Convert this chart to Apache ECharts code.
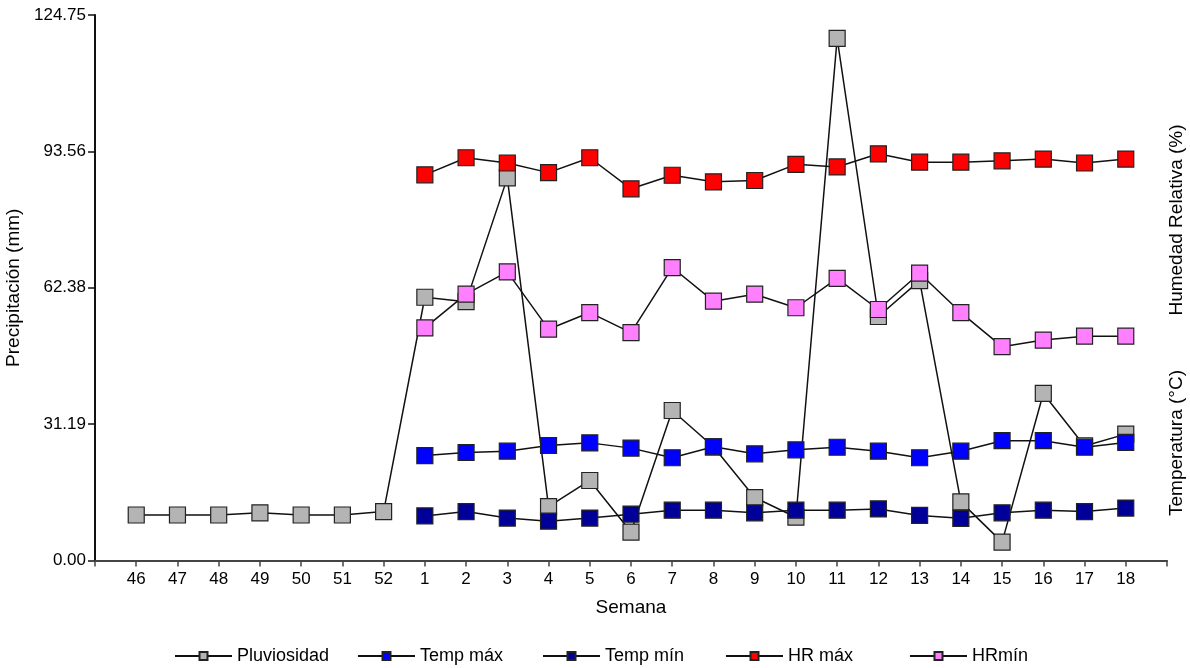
<!DOCTYPE html>
<html>
<head>
<meta charset="utf-8">
<script src="https://cdn.jsdelivr.net/npm/echarts@6/dist/echarts.min.js"></script>
<style>html,body{margin:0;padding:0;background:#fff}#c{width:1190px;height:668px}</style>
</head>
<body>
<div id="c"></div>
<script>
var weeks = ['46','47','48','49','50','51','52','1','2','3','4','5','6','7','8','9','10','11','12','13','14','15','16','17','18'];
var pluviosidad = [10.4,10.4,10.4,10.9,10.4,10.4,11.2,60.2,59.2,87.5,12.3,18.3,6.5,34.3,26.0,14.4,9.9,119.4,55.8,64.0,13.4,4.2,38.2,26.2,28.9];
var tempMax = [null,null,null,null,null,null,null,24.0,24.7,25.0,26.3,26.9,25.7,23.5,26.0,24.4,25.3,25.9,25.0,23.5,25.0,27.4,27.4,25.9,27.0];
var tempMin = [null,null,null,null,null,null,null,10.2,11.2,9.7,9.0,9.7,10.6,11.5,11.5,10.9,11.5,11.5,11.8,10.3,9.65,10.9,11.5,11.2,12.0];
var hrMax = [null,null,null,null,null,null,null,88.2,92.1,90.9,88.7,92.1,85.0,88.1,86.6,86.9,90.6,90.0,93.0,91.1,91.1,91.4,91.8,90.9,91.8];
var hrMin = [null,null,null,null,null,null,null,53.2,60.9,66.0,52.9,56.7,52.1,67.0,59.3,60.9,57.8,64.5,57.4,65.7,56.7,48.9,50.4,51.3,51.3];

var names = ['Pluviosidad','Temp máx','Temp mín','HR máx','HRmín'];
var colors = ['#b4b4b4','#0000ff','#000099','#ff0000','#ff80ff'];
var datas = [pluviosidad, tempMax, tempMin, hrMax, hrMin];

function pad(a){ return [null].concat(a, [null]); }
var cats = [''].concat(weeks, ['']);
var FONT = 'Liberation Sans, Arial, sans-serif';

var series = names.map(function(n, i){
  return {
    name: n, type: 'line', data: pad(datas[i]),
    symbol: 'rect', symbolSize: 16, showSymbol: true,
    connectNulls: false,
    lineStyle: {color: '#111', width: 1.5},
    itemStyle: {color: colors[i], borderColor: '#222', borderWidth: 1.2},
    emphasis: {disabled: true},
    animation: false
  };
});

var legendLefts = [169, 352, 537, 720, 904];
var legends = names.map(function(n, i){
  return {
    data: [n], left: legendLefts[i], top: 642, orient: 'horizontal',
    itemWidth: 57, itemHeight: 10, itemGap: 0,
    textStyle: {fontFamily: FONT, fontSize: 18, color: '#000'},
    selectedMode: false
  };
});

var chart = echarts.init(document.getElementById('c'), null, {renderer: 'canvas'});
chart.setOption({
  backgroundColor: '#fff',
  animation: false,
  grid: {left: 95, right: 23, top: 15, bottom: 107.5, containLabel: false, outerBoundsMode: 'none'},
  xAxis: {
    type: 'category', data: cats, boundaryGap: false,
    name: 'Semana', nameLocation: 'middle', nameGap: 38,
    nameTextStyle: {fontFamily: FONT, fontSize: 19, color: '#000'},
    axisLine: {lineStyle: {color: '#444', width: 2}},
    axisTick: {show: true, length: 6, interval: 0, lineStyle: {color: '#444', width: 1.5}},
    axisLabel: {interval: 0, margin: 10, fontFamily: FONT, fontSize: 17, color: '#000'},
    splitLine: {show: false}
  },
  yAxis: {
    type: 'value', min: 0, max: 124.75, interval: 31.1875,
    name: 'Precipitación (mm)', nameLocation: 'middle', nameGap: 50,
    nameTextStyle: {fontFamily: FONT, fontSize: 19, color: '#000'},
    axisLine: {show: true, lineStyle: {color: '#111', width: 2}},
    axisTick: {show: true, length: 7, lineStyle: {color: '#111', width: 1.5}},
    axisLabel: {margin: 9, fontFamily: FONT, fontSize: 17, color: '#000',
      formatter: function(v){ return v.toFixed(2); }},
    splitLine: {show: false}
  },
  legend: legends,
  graphic: [
    {type: 'text', x: 1177, y: 220, rotation: Math.PI/2,
      style: {text: 'Humedad Relativa (%)', fontFamily: FONT, fontSize: 19, fill: '#000', align: 'center', verticalAlign: 'middle'}},
    {type: 'text', x: 1177, y: 443, rotation: Math.PI/2,
      style: {text: 'Temperatura (°C)', fontFamily: FONT, fontSize: 19, fill: '#000', align: 'center', verticalAlign: 'middle'}}
  ],
  series: series
});
</script>
</body>
</html>
